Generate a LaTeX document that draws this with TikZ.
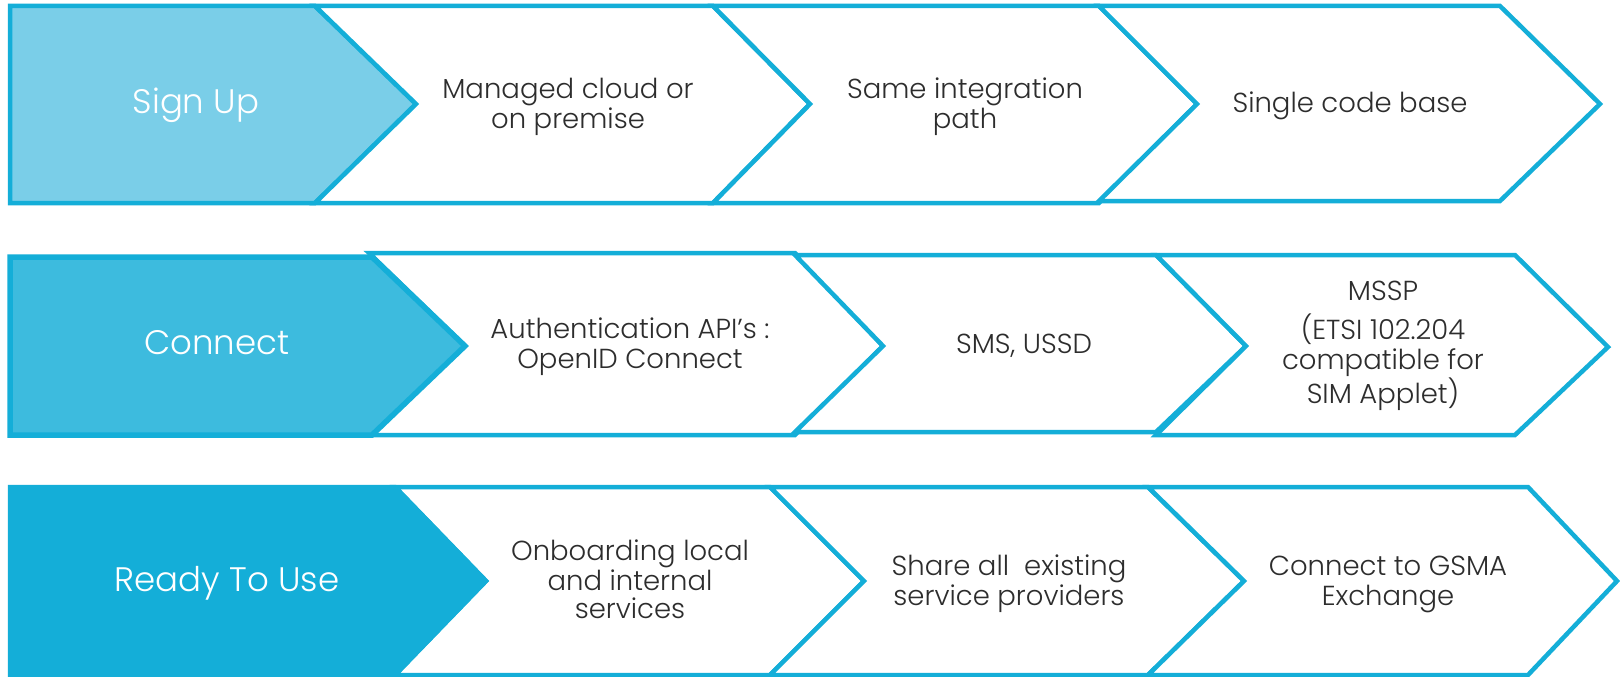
\documentclass[tikz,border=0pt]{standalone}
\usepackage{fontspec}
\setmainfont{Poppins}[UprightFont={* Light}]
\definecolor{cblue}{RGB}{20,174,216}
\definecolor{fillA}{RGB}{122,206,232}
\definecolor{fillB}{RGB}{61,187,222}
\definecolor{fillC}{RGB}{20,174,216}
\definecolor{dark}{RGB}{45,45,45}
\tikzset{
  chev/.style={draw=cblue, line width=4.5pt, line join=miter, fill=white},
  lbl/.style={text=dark, align=center, anchor=base, inner sep=0pt,
    font=\fontsize{27.5}{29.5}\selectfont},
  head/.style={text=white, align=center, anchor=base, inner sep=0pt,
    font=\fontsize{34}{38}\selectfont}
}
\begin{document}
\begin{tikzpicture}[x=1pt,y=-1pt]
\useasboundingbox (0,0) rectangle (1620,677);
\fill[white] (0,0) rectangle (1620,677);
% Row 1
\draw[chev, fill=fillA] (10,6) -- (315,6) -- (416,104) -- (315,203) -- (10,203) -- cycle;
\draw[chev] (315,6) -- (713,6) -- (810,104) -- (713,203) -- (315,203) -- (416,104) -- cycle;
\draw[chev] (713,6) -- (1099,6) -- (1197,104) -- (1099,203) -- (713,203) -- (810,104) -- cycle;
\draw[chev] (1099,6) -- (1500,6) -- (1600,104) -- (1500,201) -- (1099,201) -- (1197,104) -- cycle;
% Row 2
\draw[chev] (369,253) -- (795,253) -- (883,346) -- (795,435) -- (369,435) -- (465,346) -- cycle;
\draw[chev] (795,255) -- (1156,255) -- (1246,346) -- (1156,432) -- (795,432) -- (883,346) -- cycle;
\draw[chev] (1156,255) -- (1515,255) -- (1608,347) -- (1515,435) -- (1156,435) -- (1246,346) -- cycle;
\draw[chev, fill=fillB, line width=5.5pt] (10,257) -- (372,257) -- (465,346) -- (372,435) -- (10,435) -- cycle;
% Row 3
\draw[chev] (395,487) -- (770,487) -- (864,581) -- (770,675) -- (395,675) -- (486,581) -- cycle;
\draw[chev] (770,487) -- (1148,487) -- (1244,581) -- (1148,675) -- (770,675) -- (864,581) -- cycle;
\draw[chev] (1148,487) -- (1528,487) -- (1617,581) -- (1528,675) -- (1148,675) -- (1244,581) -- cycle;
\draw[chev, fill=fillC] (10,487) -- (395,487) -- (486,581) -- (395,675) -- (10,675) -- cycle;
% Texts (base anchor = baseline of the last line)
\node[head] (signup) at (196,113) {Sign Up};
\node[lbl] (managed) at (568,128) {Managed cloud or\\on premise};
\node[lbl] (same) at (965,128) {Same integration\\path};
\node[lbl] (single) at (1350,112) {Single code base};
\node[head] (connect) at (217,354) {Connect};
\node[lbl] (auth) at (630,368) {Authentication API’s :\\OpenID Connect};
\node[lbl] (sms) at (1024,353) {SMS, USSD};
\node[lbl] (mssp) at (1383,403) {MSSP\\[10pt](ETSI 102.204\\compatible for\\SIM Applet)};
\node[head] (ready) at (227,591) {Ready To Use};
\node[lbl, font=\fontsize{27.5}{28}\selectfont] (onboard) at (630,618) {Onboarding local\\and internal\\services};
\node[lbl, font=\fontsize{27.5}{30}\selectfont] (share) at (1009,605) {Share all~ existing\\service providers};
\node[lbl, font=\fontsize{27.5}{30}\selectfont] (gsma) at (1388,605) {Connect to GSMA\\Exchange};
\end{tikzpicture}
\end{document}
